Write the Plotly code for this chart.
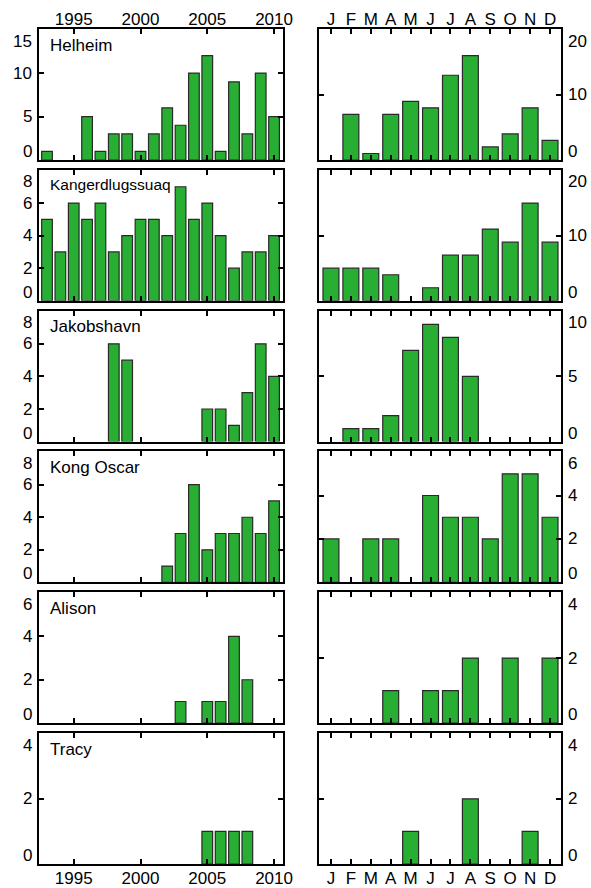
import plotly.graph_objects as go

years = list(range(1993, 2011))
month_labels = ["J", "F", "M", "A", "M", "J", "J", "A", "S", "O", "N", "D"]
month_nums = list(range(1, 13))
glaciers = ["Helheim", "Kangerdlugssuaq", "Jakobshavn", "Kong Oscar", "Alison", "Tracy"]

helheim_annual = [1, 0, 0, 5, 1, 3, 3, 1, 3, 6, 4, 10, 12, 1, 9, 3, 10, 5]
kanger_annual = [5, 3, 6, 5, 6, 3, 4, 5, 5, 4, 7, 5, 6, 4, 2, 3, 3, 4]
jakob_annual = [0, 0, 0, 0, 0, 6, 5, 0, 0, 0, 0, 0, 2, 2, 1, 3, 6, 4]
kong_annual = [0, 0, 0, 0, 0, 0, 0, 0, 0, 1, 3, 6, 2, 3, 3, 4, 3, 5]
alison_annual = [0, 0, 0, 0, 0, 0, 0, 0, 0, 0, 1, 0, 1, 1, 4, 2, 0, 0]
tracy_annual = [0, 0, 0, 0, 0, 0, 0, 0, 0, 0, 0, 0, 1, 1, 1, 1, 0, 0]

helheim_monthly = [0, 7, 1, 7, 9, 8, 13, 16, 2, 4, 8, 3]
kanger_monthly = [5, 5, 5, 4, 0, 2, 7, 7, 11, 9, 15, 9]
jakob_monthly = [0, 1, 1, 2, 7, 9, 8, 5, 0, 0, 0, 0]
kong_monthly = [2, 0, 2, 2, 0, 4, 3, 3, 2, 5, 5, 3]
alison_monthly = [0, 0, 0, 1, 0, 1, 1, 2, 0, 2, 0, 2]
tracy_monthly = [0, 0, 0, 0, 1, 0, 0, 2, 0, 0, 1, 0]

annual = [helheim_annual, kanger_annual, jakob_annual, kong_annual, alison_annual, tracy_annual]
monthly = [helheim_monthly, kanger_monthly, jakob_monthly, kong_monthly, alison_monthly, tracy_monthly]

left_ymax = [15, 8, 8, 8, 6, 4]
left_dtick = [5, 2, 2, 2, 2, 2]
right_ymax = [20, 20, 10, 6, 4, 4]
right_dtick = [10, 10, 5, 2, 2, 2]

W, H = 591, 888
ML, MR, MT, MB = 39, 30, 29, 24
plot_h = H - MT - MB
plot_w = W - ML - MR
panel_h = 131.0
gap = (plot_h - 6 * panel_h) / 5

FONT = "Liberation Sans, Arial, Helvetica, sans-serif"
GREEN = "#27ae33"
EDGE = "#2a2a2a"


def nz(vals):
    return [v if v else None for v in vals]


fig = go.Figure()
layout = dict(
    template="none",
    width=W, height=H,
    margin=dict(l=ML, r=MR, t=MT, b=MB, autoexpand=False),
    paper_bgcolor="white", plot_bgcolor="white",
    showlegend=False,
    font=dict(family=FONT, size=17, color="black"),
)

left_dom = [0.0, (283 - ML) / plot_w]
right_dom = [(319 - ML) / plot_w, 1.0]

annotations = []
for i in range(6):
    top_px = i * (panel_h + gap)
    y1 = 1 - top_px / plot_h
    y0 = 1 - (top_px + panel_h) / plot_h
    for c in range(2):
        k = 2 * i + c + 1
        xa = "xaxis" if k == 1 else f"xaxis{k}"
        ya = "yaxis" if k == 1 else f"yaxis{k}"
        xr = "x" if k == 1 else f"x{k}"
        yr = "y" if k == 1 else f"y{k}"
        common_ax = dict(
            showgrid=False, zeroline=False, showline=True, linecolor="black",
            linewidth=2, mirror="ticks", ticks="inside", ticklen=5,
            tickwidth=1.5, tickcolor="black", tickfont=dict(size=17, family=FONT),
            automargin=False,
        )
        if c == 0:
            fig.add_trace(go.Bar(
                x=years, y=nz(annual[i]), xaxis=xr, yaxis=yr, width=0.8,
                marker=dict(color=GREEN, line=dict(color=EDGE, width=1.2)),
            ))
            xaxis = dict(common_ax, domain=left_dom, anchor=yr, range=[1992.4, 2010.67],
                         tickmode="array", tickvals=[1995, 2000, 2005, 2010],
                         ticktext=["1995", "2000", "2005", "2010"])
            ymax, dt = left_ymax[i], left_dtick[i]
            yaxis = dict(common_ax, domain=[y0, y1], anchor=xr, side="left",
                         range=[0, ymax * 1.005], tick0=0, dtick=dt, showticklabels=False)
        else:
            fig.add_trace(go.Bar(
                x=month_nums, y=nz(monthly[i]), xaxis=xr, yaxis=yr, width=0.8,
                marker=dict(color=GREEN, line=dict(color=EDGE, width=1.2)),
            ))
            xaxis = dict(common_ax, domain=right_dom, anchor=yr, range=[0.4, 12.55],
                         tickmode="array", tickvals=month_nums, ticktext=month_labels)
            ymax, dt = right_ymax[i], right_dtick[i]
            yaxis = dict(common_ax, domain=[y0, y1], anchor=xr, side="right",
                         range=[0, ymax * 1.005], tick0=0, dtick=dt, showticklabels=False)
        # y tick labels kept inside the panel's vertical extent
        v = 0
        while v <= ymax:
            if v == 0:
                yanc, ysh = "bottom", -3
            elif v == ymax:
                yanc, ysh = "top", 0
            else:
                yanc, ysh = "middle", 0
            annotations.append(dict(
                text=str(v), xref=f"{xr} domain", yref=yr,
                x=0 if c == 0 else 1, y=v,
                xanchor="right" if c == 0 else "left",
                xshift=-5 if c == 0 else 5, yanchor=yanc, yshift=ysh,
                showarrow=False, font=dict(size=17, family=FONT, color="black"),
            ))
            v += dt
        if i == 0:
            xaxis["side"] = "top"
            xaxis["showticklabels"] = True
            xaxis["ticklabelstandoff"] = -5
        elif i == 5:
            xaxis["side"] = "bottom"
            xaxis["showticklabels"] = True
            xaxis["ticklabelstandoff"] = -2
        else:
            xaxis["showticklabels"] = False
        layout[xa] = xaxis
        layout[ya] = yaxis
    xr1 = "x" if i == 0 else f"x{2*i+1}"
    yr1 = "y" if i == 0 else f"y{2*i+1}"
    annotations.append(dict(
        text=glaciers[i], xref=f"{xr1} domain", yref=f"{yr1} domain",
        x=0.035, y=0.965, xanchor="left", yanchor="top", showarrow=False,
        font=dict(size=15.5 if glaciers[i] == "Kangerdlugssuaq" else 17, family=FONT, color="black"),
    ))

layout["annotations"] = annotations
fig.update_layout(**layout)
fig.write_html(
    "out.html",
    config={"displayModeBar": False},
    post_script="document.body.style.margin='0px';document.body.style.overflow='hidden';",
)
